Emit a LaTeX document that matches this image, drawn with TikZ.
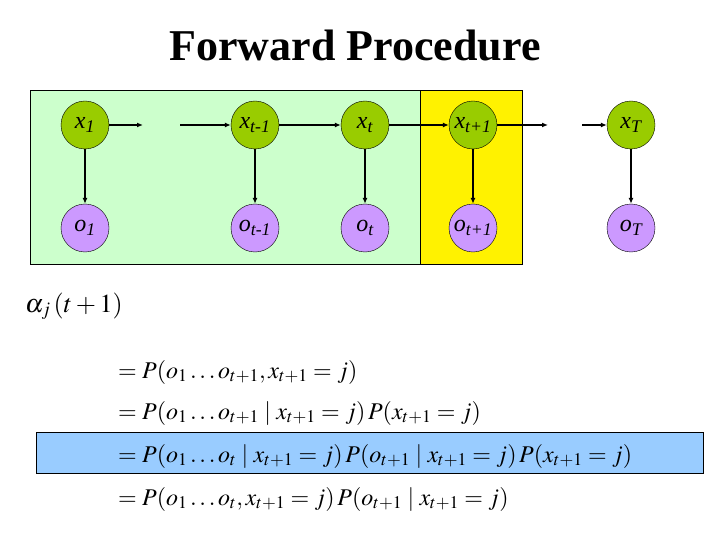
\documentclass[tikz,border=0pt]{standalone}
\usepackage{mathptmx}
\usepackage{fontspec}
\setmainfont{Liberation Serif}
\usetikzlibrary{arrows.meta}
\definecolor{hidGreen}{HTML}{99CC00}
\definecolor{obsPurple}{HTML}{CC99FF}
\definecolor{paleGreen}{HTML}{CCFFCC}
\definecolor{hiBlue}{HTML}{99CCFF}

\begin{document}
\begin{tikzpicture}[x=1pt, y=-1pt]
    \tikzset{
        hidden/.style={
            circle, draw=black, fill=hidGreen,
            minimum size=48pt, inner sep=0pt,
            font=\fontsize{24}{26}\selectfont\itshape
        },
        obs/.style={hidden, fill=obsPurple},
        arr/.style={line width=1.2pt, -{Latex[length=6pt, width=5pt]}},
        eqn/.style={anchor=base west, inner sep=0pt, font=\fontsize{24}{28}\selectfont}
    }
    \useasboundingbox (0,0) rectangle (720,540);

    % --- Title ---
    \node[font=\fontsize{44}{48}\selectfont\bfseries] (title) at (355,46) {Forward Procedure};

    % --- Background boxes ---
    \draw[fill=paleGreen] (30,90) rectangle (420,264);
    \draw[fill=yellow] (420,90) rectangle (522,264);

    % --- Hidden states ---
    \node[hidden] (x1)   at (85,125)  {x\textsubscript{1}};
    \node[hidden] (xtm1) at (255,125) {x\textsubscript{t-1}};
    \node[hidden] (xt)   at (365,125) {x\textsubscript{t}};
    \node[hidden] (xtp1) at (473,125) {x\textsubscript{t+1}};
    \node[hidden] (xT)   at (631,125) {x\textsubscript{T}};

    % --- Observations ---
    \node[obs] (o1)   at (85,228)  {o\textsubscript{1}};
    \node[obs] (otm1) at (255,228) {o\textsubscript{t-1}};
    \node[obs] (ot)   at (365,228) {o\textsubscript{t}};
    \node[obs] (otp1) at (473,228) {o\textsubscript{t+1}};
    \node[obs] (oT)   at (631,228) {o\textsubscript{T}};

    % --- Gaps in the chain ---
    \coordinate (gapAin)  at (143,125);
    \coordinate (gapAout) at (180,125);
    \coordinate (gapBin)  at (548,125);
    \coordinate (gapBout) at (582,125);

    % --- Transitions ---
    \draw[arr] (x1) -- (gapAin);
    \draw[arr] (gapAout) -- (xtm1);
    \draw[arr] (xtm1) -- (xt);
    \draw[arr] (xt) -- (xtp1);
    \draw[arr] (xtp1) -- (gapBin);
    \draw[arr] (gapBout) -- (xT);

    % --- Emissions ---
    \foreach \s in {1,tm1,t,tp1,T} {
        \draw[arr] (x\s) -- (o\s);
    }

    % --- Derivation ---
    \draw[fill=hiBlue] (36,432) rectangle (703,473);
    \node[eqn, font=\fontsize{26}{30}\selectfont] (alpha) at (25,312) {$\alpha_j\,(t+1)$};
    \node[eqn] (eqA) at (118,378) {$=P(o_1\ldots o_{t+1}, x_{t+1}=j)$};
    \node[eqn] (eqB) at (118,419) {$=P(o_1\ldots o_{t+1}\mid x_{t+1}=j)\,P(x_{t+1}=j)$};
    \node[eqn] (eqC) at (118,462) {$=P(o_1\ldots o_t\mid x_{t+1}=j)\,P(o_{t+1}\mid x_{t+1}=j)\,P(x_{t+1}=j)$};
    \node[eqn] (eqD) at (118,505) {$=P(o_1\ldots o_t, x_{t+1}=j)\,P(o_{t+1}\mid x_{t+1}=j)$};
\end{tikzpicture}
\end{document}
